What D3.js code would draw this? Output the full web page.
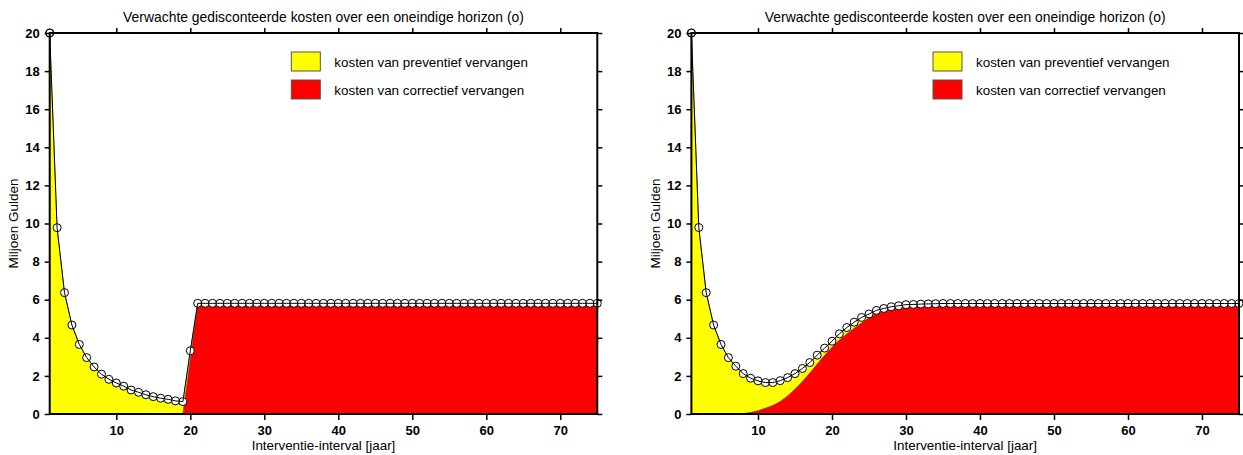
<!DOCTYPE html>
<html>
<head>
<meta charset="utf-8">
<script src="https://cdn.jsdelivr.net/npm/d3@7"></script>
<style>
  body { margin: 0; background: #fff; }
  text { font-family: "Liberation Sans", Arial, sans-serif; }
</style>
</head>
<body>
<svg id="chart" width="1243" height="455"></svg>
<script>
// interval in years (1 .. 75)
const jaren = d3.range(1, 76);

const titel = "Verwachte gedisconteerde kosten over een oneindige horizon (o)";
const xLabel = "Interventie-interval [jaar]";
const yLabel = "Miljoen Gulden";
const legendLabels = ["kosten van preventief vervangen", "kosten van correctief vervangen"];
const legendColors = ["#ffff00", "#ff0000"];
const xTicks = [10, 20, 30, 40, 50, 60, 70];
const yTicks = [0, 2, 4, 6, 8, 10, 12, 14, 16, 18, 20];

// left panel: total (circles) and corrective part
const totaalLinks = [
  20, 9.78, 6.37, 4.67, 3.65, 2.96, 2.47, 2.09, 1.82, 1.63,
  1.46, 1.26, 1.14, 1.01, 0.91, 0.83, 0.77, 0.69, 0.65, 3.32,
  5.81, 5.81, 5.81, 5.81, 5.81, 5.81, 5.81, 5.81, 5.81, 5.81,
  5.81, 5.81, 5.81, 5.81, 5.81, 5.81, 5.81, 5.81, 5.81, 5.81,
  5.81, 5.81, 5.81, 5.81, 5.81, 5.81, 5.81, 5.81, 5.81, 5.81,
  5.81, 5.81, 5.81, 5.81, 5.81, 5.81, 5.81, 5.81, 5.81, 5.81,
  5.81, 5.81, 5.81, 5.81, 5.81, 5.81, 5.81, 5.81, 5.81, 5.81,
  5.81, 5.81, 5.81, 5.81, 5.81
];
const correctiefLinks = [
  0, 0, 0, 0, 0, 0, 0, 0, 0, 0,
  0, 0, 0, 0, 0, 0, 0, 0, 0, 2.85,
  5.72, 5.72, 5.72, 5.72, 5.72, 5.72, 5.72, 5.72, 5.72, 5.72,
  5.72, 5.72, 5.72, 5.72, 5.72, 5.72, 5.72, 5.72, 5.72, 5.72,
  5.72, 5.72, 5.72, 5.72, 5.72, 5.72, 5.72, 5.72, 5.72, 5.72,
  5.72, 5.72, 5.72, 5.72, 5.72, 5.72, 5.72, 5.72, 5.72, 5.72,
  5.72, 5.72, 5.72, 5.72, 5.72, 5.72, 5.72, 5.72, 5.72, 5.72,
  5.72, 5.72, 5.72, 5.72, 5.72
];

// right panel
const totaalRechts = [
  20, 9.79, 6.37, 4.67, 3.65, 2.96, 2.51, 2.12, 1.88, 1.74,
  1.65, 1.65, 1.75, 1.91, 2.12, 2.39, 2.70, 3.09, 3.46, 3.82,
  4.21, 4.54, 4.82, 5.07, 5.25, 5.44, 5.54, 5.63, 5.68, 5.74,
  5.75, 5.77, 5.78, 5.79, 5.8, 5.8, 5.8, 5.8, 5.8, 5.8,
  5.8, 5.8, 5.8, 5.8, 5.8, 5.8, 5.8, 5.8, 5.8, 5.8,
  5.8, 5.8, 5.8, 5.8, 5.8, 5.8, 5.8, 5.8, 5.8, 5.8,
  5.8, 5.8, 5.8, 5.8, 5.8, 5.8, 5.8, 5.8, 5.8, 5.8,
  5.8, 5.8, 5.8, 5.8, 5.8
];
const correctiefRechts = [
  0, 0, 0, 0, 0, 0, 0, 0.02, 0.08, 0.17,
  0.3, 0.45, 0.65, 0.95, 1.3, 1.7, 2.15, 2.62, 3.08, 3.5,
  3.88, 4.2, 4.5, 4.78, 5.05, 5.28, 5.43, 5.55, 5.63, 5.68,
  5.7, 5.72, 5.72, 5.72, 5.72, 5.72, 5.72, 5.72, 5.72, 5.72,
  5.72, 5.72, 5.72, 5.72, 5.72, 5.72, 5.72, 5.72, 5.72, 5.72,
  5.72, 5.72, 5.72, 5.72, 5.72, 5.72, 5.72, 5.72, 5.72, 5.72,
  5.72, 5.72, 5.72, 5.72, 5.72, 5.72, 5.72, 5.72, 5.72, 5.72,
  5.72, 5.72, 5.72, 5.72, 5.72
];

const svg = d3.select("#chart");
const plotTop = 33, plotBottom = 414, plotWidth = 547.6;

const drawPanel = (left, totaal, correctief) => {
  const x = d3.scaleLinear().domain([1, 75]).range([left, left + plotWidth]);
  const y = d3.scaleLinear().domain([0, 20]).range([plotBottom, plotTop]);

  const data = jaren.map((j, i) => ({ j, tot: totaal[i], cor: correctief[i] }));

  const g = svg.append("g");

  // yellow: between corrective and total
  g.append("path")
    .datum(data)
    .attr("fill", legendColors[0])
    .attr("stroke", "#444")
    .attr("stroke-width", 0.4)
    .attr("d", d3.area().x((d) => x(d.j)).y0((d) => y(d.cor)).y1((d) => y(d.tot)));

  // red: corrective
  g.append("path")
    .datum(data)
    .attr("fill", legendColors[1])
    .attr("stroke", "#444")
    .attr("stroke-width", 0.4)
    .attr("d", d3.area().x((d) => x(d.j)).y0(y(0)).y1((d) => y(d.cor)));

  // markers, then the total line through them
  g.selectAll("circle")
    .data(data)
    .join("circle")
    .attr("cx", (d) => x(d.j))
    .attr("cy", (d) => y(d.tot))
    .attr("r", 4)
    .attr("fill", "#fff")
    .attr("stroke", "#000")
    .attr("stroke-width", 1);

  g.append("path")
    .datum(data)
    .attr("fill", "none")
    .attr("stroke", "#000")
    .attr("stroke-width", 1)
    .attr("d", d3.line().x((d) => x(d.j)).y((d) => y(d.tot)));

  // axes
  const styleAxis = (sel) => {
    sel.select(".domain").remove();
    sel.selectAll(".tick line").attr("stroke", "#000").attr("stroke-width", 1.5);
    sel.selectAll(".tick text")
      .attr("fill", "#000")
      .style("font-size", "13px")
      .style("font-weight", "bold")
      .style("font-family", "'Liberation Sans', Arial, sans-serif");
  };

  g.append("g")
    .attr("transform", `translate(0,${plotBottom})`)
    .call(d3.axisBottom(x).tickValues(xTicks).tickSize(6).tickPadding(6))
    .call(styleAxis);
  g.append("g")
    .attr("transform", `translate(0,${plotTop})`)
    .call(d3.axisTop(x).tickValues(xTicks).tickSize(5).tickFormat(""))
    .call(styleAxis);
  g.append("g")
    .attr("transform", `translate(${left},0)`)
    .call(d3.axisLeft(y).tickValues(yTicks).tickSize(5).tickPadding(5))
    .call(styleAxis);
  g.append("g")
    .attr("transform", `translate(${left + plotWidth},0)`)
    .call(d3.axisRight(y).tickValues(yTicks).tickSize(5).tickFormat(""))
    .call(styleAxis);

  // frame
  g.append("rect")
    .attr("x", left)
    .attr("y", plotTop)
    .attr("width", plotWidth)
    .attr("height", plotBottom - plotTop)
    .attr("fill", "none")
    .attr("stroke", "#000")
    .attr("stroke-width", 2);

  // first marker sits on top of the frame
  g.append("circle")
    .attr("cx", x(1))
    .attr("cy", y(totaal[0]))
    .attr("r", 4)
    .attr("fill", "none")
    .attr("stroke", "#000");

  // texts
  g.append("text")
    .attr("x", left + plotWidth / 2)
    .attr("y", 22)
    .attr("text-anchor", "middle")
    .style("font-size", "13.9px")
    .text(titel);

  g.append("text")
    .attr("x", left + plotWidth / 2)
    .attr("y", 450)
    .attr("text-anchor", "middle")
    .style("font-size", "13.4px")
    .text(xLabel);

  g.append("text")
    .attr("transform", `translate(${left - 31.7},${(plotTop + plotBottom) / 2}) rotate(-90)`)
    .attr("text-anchor", "middle")
    .style("font-size", "13.5px")
    .text(yLabel);

  // legend
  const legend = g.append("g").attr("transform", `translate(${left + 241.6},52)`);
  legendLabels.forEach((lab, i) => {
    legend.append("rect")
      .attr("x", 0)
      .attr("y", i * 28)
      .attr("width", 29)
      .attr("height", 19)
      .attr("fill", legendColors[i])
      .attr("stroke", "#555")
      .attr("stroke-width", 1);
    legend.append("text")
      .attr("x", 43)
      .attr("y", i * 28 + 10)
      .attr("dy", "0.35em")
      .style("font-size", "13.4px")
      .text(lab);
  });
};

drawPanel(49.7, totaalLinks, correctiefLinks);
drawPanel(691.4, totaalRechts, correctiefRechts);
</script>
</body>
</html>
